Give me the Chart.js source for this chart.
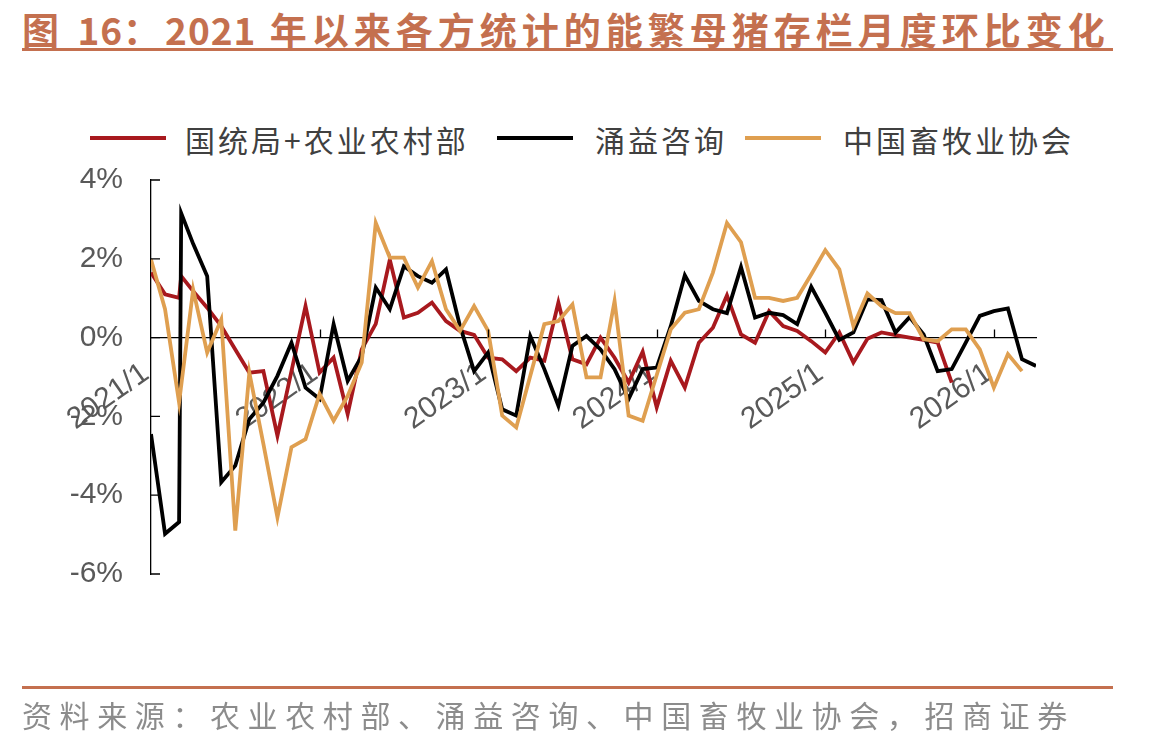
<!DOCTYPE html>
<html>
<head>
<meta charset="utf-8">
<script src="https://cdn.jsdelivr.net/npm/chart.js@4.4.1/dist/chart.umd.min.js"></script>
<style>
  html, body { margin: 0; padding: 0; background: #fff; }
  #page { position: relative; width: 1173px; height: 747px; overflow: hidden; }
  #title { position: absolute; left: 22px; top: 2px; font: bold 37px "Noto Sans CJK SC", sans-serif; color: #C4704F; letter-spacing: 5px; white-space: nowrap; }
  #title .num { letter-spacing: 1px; }
  .rule { position: absolute; left: 22px; width: 1091px; height: 3px; background: #C4704F; }
  #footer { position: absolute; left: 22px; top: 692px; font: 30px "Noto Sans CJK SC", sans-serif; color: #8C8C8C; letter-spacing: 7.6px; white-space: nowrap; }
  .lg { position: absolute; top: 117px; font: 30px "Noto Sans CJK SC", sans-serif; color: #404040; letter-spacing: 3px; white-space: nowrap; }
  .lg i { position: absolute; top: 19px; height: 4px; width: 76px; }
  canvas { position: absolute; left: 0; top: 0; }
</style>
</head>
<body>
<div id="page">
  <div id="title">图 <span class="num">16</span>：<span class="num">2021</span> 年以来各方统计的能繁母猪存栏月度环比变化</div>
  <div class="rule" style="top:48px"></div>
  <div id="legend"></div>
  <canvas id="chart" width="1173" height="747"></canvas>
  <div class="rule" style="top:686px"></div>
  <div id="footer">资料来源：农业农村部、涌益咨询、中国畜牧业协会，招商证券</div>
</div>
<script>
// 月度环比(%)，从 2021/1 开始逐月
const seriesNames = ['国统局+农业农村部', '涌益咨询', '中国畜牧业协会'];
const seriesColors = ['#A8191E', '#000000', '#DF9F50'];

const xTickLabels = ['2021/1', '2022/1', '2023/1', '2024/1', '2025/1', '2026/1'];
const yTickLabels = ['-6%', '-4%', '-2%', '0%', '2%', '4%'];

const nbsValues = [
  1.65, 1.10, 1.01, 1.18, 0.76, 0.29, -0.30, -0.89, -0.85, -2.49, -0.85, 0.80,
  -0.89, -0.51, -1.94, -0.30, 0.35, 1.98, 0.51, 0.63, 0.89, 0.42, 0.17, 0.07,
  -0.51, -0.55, -0.85, -0.51, -0.59, 0.89, -0.55, -0.68, 0.00, -0.51, -1.14, -0.36,
  -1.77, -0.59, -1.27, -0.13, 0.25, 1.07, 0.08, -0.13, 0.67, 0.29, 0.17, -0.09,
  -0.38, 0.13, -0.63, -0.03, 0.13, 0.06, 0.00, -0.06, -0.13, -1.14
];
// 2021/3 有两条记录
const nbsExtra = { month: 2.15, value: 1.56 };

const yongyiValues = [
  -2.45, -4.98, -4.68, 2.38, 1.56, -3.67, -3.25, -2.07, -1.65, -0.97, -0.13, -1.27,
  -1.56, 0.34, -1.10, -0.47, 1.27, 0.72, 1.81, 1.56, 1.39, 1.73, 0.29, -0.85,
  -0.38, -1.82, -1.98, 0.04, -0.80, -1.73, -0.21, 0.04, -0.30, -0.80, -1.56, -0.80,
  -0.76, 0.29, 1.58, 0.93, 0.72, 0.62, 1.79, 0.51, 0.63, 0.57, 0.34, 1.29,
  0.63, -0.06, 0.13, 0.97, 0.95, 0.13, 0.52, 0.08, -0.85, -0.80, -0.13, 0.55,
  0.67, 0.74, -0.55, -0.72
];
const yongyiExtra = { month: 2.15, value: 3.16 };

const caahValues = [
  1.98, 0.72, -1.65, 1.22, -0.38, 0.46, -4.90, -0.89, -2.70, -4.56, -2.78, -2.58,
  -1.43, -2.11, -1.48, -0.63, 2.91, 2.03, 2.03, 1.27, 1.94, 0.72, 0.17, 0.80,
  0.17, -1.98, -2.28, -0.97, 0.34, 0.42, 0.84, -1.01, -1.01, 0.93, -1.98, -2.11,
  -0.95, 0.21, 0.63, 0.72, 1.65, 2.91, 2.42, 1.01, 1.01, 0.93, 1.01, 1.60,
  2.22, 1.73, 0.29, 1.12, 0.80, 0.62, 0.62, -0.04, -0.09, 0.21, 0.21, -0.30,
  -1.27, -0.42, -0.85
];

function toPoints(values, extra) {
  const pts = values.map((v, i) => ({ x: i, y: v }));
  if (extra) {
    const at = pts.findIndex(p => p.x > extra.month);
    pts.splice(at, 0, { x: extra.month, y: extra.value });
  }
  return pts;
}

// 图例
const legendPos = [[90, 185], [497, 595], [745, 843]];
const legendEl = document.getElementById('legend');
seriesNames.forEach((name, i) => {
  const item = document.createElement('div');
  item.className = 'lg';
  item.style.left = legendPos[i][1] + 'px';
  item.textContent = name;
  const swatch = document.createElement('i');
  swatch.style.background = seriesColors[i];
  swatch.style.left = (legendPos[i][0] - legendPos[i][1]) + 'px';
  item.appendChild(swatch);
  legendEl.appendChild(item);
});

// 刻度线画在轴内侧
const innerTicks = {
  id: 'innerTicks',
  afterDraw(chart) {
    const { ctx, scales: { x, y } } = chart;
    const zeroY = y.getPixelForValue(0);
    ctx.save();
    ctx.strokeStyle = '#000';
    ctx.lineWidth = 1.3;
    ctx.beginPath();
    x.ticks.forEach(t => {
      if (t.value === 0) return;
      const px = Math.round(x.getPixelForValue(t.value)) + 0.5;
      ctx.moveTo(px, zeroY);
      ctx.lineTo(px, zeroY - 8);
    });
    y.ticks.forEach(t => {
      const py = y.getPixelForValue(t.value);
      ctx.moveTo(x.left, py);
      ctx.lineTo(x.left + 9, py);
    });
    ctx.stroke();
    ctx.restore();
  }
};

const lastMonth = yongyiValues.length - 1;

new Chart(document.getElementById('chart'), {
  type: 'line',
  data: {
    datasets: [
      { label: seriesNames[0], data: toPoints(nbsValues, nbsExtra), borderColor: seriesColors[0], order: 3 },
      { label: seriesNames[1], data: toPoints(yongyiValues, yongyiExtra), borderColor: seriesColors[1], order: 2 },
      { label: seriesNames[2], data: toPoints(caahValues), borderColor: seriesColors[2], order: 1 }
    ]
  },
  options: {
    responsive: false,
    animation: false,
    layout: { padding: { top: 180, right: 137, bottom: 173, left: 0 } },
    elements: {
      line: { borderWidth: 3.8, tension: 0, fill: false },
      point: { radius: 0, hoverRadius: 0 }
    },
    plugins: { legend: { display: false }, tooltip: { enabled: false } },
    scales: {
      x: {
        type: 'linear',
        min: 0,
        max: lastMonth,
        position: { y: 0 },
        grid: { display: false, drawTicks: false },
        border: { color: '#000', width: 1.3 },
        afterBuildTicks: scale => {
          scale.ticks = xTickLabels.map((_, i) => ({ value: i * 12 }));
        },
        ticks: {
          autoSkip: false,
          minRotation: 35,
          maxRotation: 35,
          padding: 18,
          labelOffset: -5,
          color: '#595959',
          font: { family: '"Liberation Sans", Arial, sans-serif', size: 30 },
          callback: (v, i) => xTickLabels[i]
        }
      },
      y: {
        min: -6,
        max: 4,
        afterFit: scale => { scale.width = 151; },
        grid: { display: false, drawTicks: false },
        border: { color: '#000', width: 1.3 },
        afterBuildTicks: scale => {
          scale.ticks = yTickLabels.map((_, i) => ({ value: -6 + i * 2 }));
        },
        ticks: {
          padding: 28,
          color: '#595959',
          font: { family: '"Liberation Sans", Arial, sans-serif', size: 30 },
          callback: (v, i) => yTickLabels[i]
        }
      }
    }
  },
  plugins: [innerTicks]
});
</script>
</body>
</html>
